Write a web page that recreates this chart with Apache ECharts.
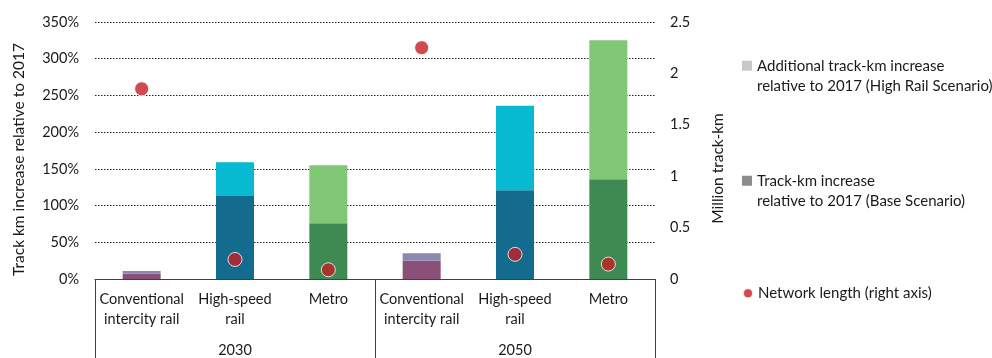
<!DOCTYPE html>
<html><head><meta charset="utf-8">
<script src="https://cdn.jsdelivr.net/npm/echarts@6/dist/echarts.min.js"></script>
<style>html,body{margin:0;padding:0;background:#fff}#c{width:992px;height:358px}</style>
</head><body><div id="c"></div>
<script>
const categories = ['Conventional\nintercity rail','High-speed\nrail','Metro','Conventional\nintercity rail','High-speed\nrail','Metro'];
const years = ['2030','2050'];
const leftTicks = [0,50,100,150,200,250,300,350];
const baseIncrease = [7,113,76,25,121,136];
const additionalIncrease = [4,46,79,10,115,189];
const networkLength = [1.85,0.19,0.09,2.25,0.24,0.145];
const baseColors = ['#8A5078','#136B8D','#3F8953','#8A5078','#136B8D','#3F8953'];
const addColors = ['#8C87AF','#07B9D1','#80C776','#8C87AF','#07B9D1','#80C776'];

const nameBase = 'Track-km increase\nrelative to 2017 (Base Scenario)';
const nameAdd = 'Additional track-km increase\nrelative to 2017 (High Rail Scenario)';
const nameNet = 'Network length (right axis)';
const FONT = 'Lato';
const TXT = '#1a1a1a';
const FS = 14.5;
const chart = echarts.init(document.getElementById('c'));
const legendText = {fontFamily: FONT, fontSize: 15, color: TXT, lineHeight: 20.5};
chart.setOption({
  animation: false,
  textStyle: {fontFamily: FONT},
  grid: {left: 95, right: 337, top: 22, bottom: 78, containLabel: false},
  legend: [
    {data: [nameAdd], orient: 'vertical', left: 737, top: 30, itemWidth: 10, itemHeight: 10, icon: 'rect',
     formatter: n => '\n' + n, textStyle: legendText},
    {data: [nameBase], orient: 'vertical', left: 737, top: 145, itemWidth: 10, itemHeight: 10, icon: 'rect',
     formatter: n => '\n' + n, textStyle: legendText},
    {data: [nameNet], orient: 'vertical', left: 737, top: 278, itemWidth: 10, itemHeight: 10, icon: 'circle',
     textStyle: legendText}
  ],
  xAxis: [
    {type: 'category', data: categories, position: 'bottom',
     axisLine: {lineStyle: {color: '#404040', width: 1}}, axisTick: {show: false},
     axisLabel: {color: TXT, fontSize: FS, lineHeight: 20, margin: 10, interval: 0, fontFamily: FONT}},
    {type: 'category', data: years, position: 'bottom',
     axisLine: {show: false},
     axisTick: {show: true, length: 80, lineStyle: {color: '#404040', width: 1}},
     axisLabel: {color: TXT, fontSize: FS, margin: 64, fontFamily: FONT}}
  ],
  yAxis: [
    {type: 'value', min: 0, max: 350, interval: 50,
     name: 'Track km increase relative to 2017', nameLocation: 'middle', nameGap: 68,
     nameTextStyle: {color: TXT, fontSize: 15.5, fontFamily: FONT, padding: [0, 18, 0, 0]},
     axisLine: {show: false}, axisTick: {show: false},
     axisLabel: {color: TXT, fontSize: FS, margin: 16, formatter: v => v + '%', fontFamily: FONT},
     splitLine: {show: true, lineStyle: {color: '#222', type: [1.5, 1.5], width: 1}}},
    {type: 'value', min: 0, max: 2.5, interval: 0.5, position: 'right',
     name: 'Million track-km', nameLocation: 'middle', nameGap: 55,
     nameTextStyle: {color: TXT, fontSize: 15.5, fontFamily: FONT, padding: [0, 36, 0, 0]},
     axisLine: {show: false}, axisTick: {show: false},
     axisLabel: {color: TXT, fontSize: FS, margin: 15, fontFamily: FONT},
     splitLine: {show: false}}
  ],
  series: [
    {name: nameBase, type: 'bar', stack: 's', barWidth: 38, xAxisIndex: 0, yAxisIndex: 0,
     itemStyle: {color: '#8C8C8C'},
     data: baseIncrease.map((v, i) => ({value: v, itemStyle: {color: baseColors[i]}}))},
    {name: nameAdd, type: 'bar', stack: 's', barWidth: 38, xAxisIndex: 0, yAxisIndex: 0,
     itemStyle: {color: '#C8C8C8'},
     data: additionalIncrease.map((v, i) => ({value: v, itemStyle: {color: addColors[i]}}))},
    {name: nameNet, type: 'scatter', xAxisIndex: 0, yAxisIndex: 1, symbolSize: 14, z: 5,
     itemStyle: {color: '#C41E24', borderColor: '#fff', borderWidth: 1},
     data: networkLength}
  ]
});
</script></body></html>
